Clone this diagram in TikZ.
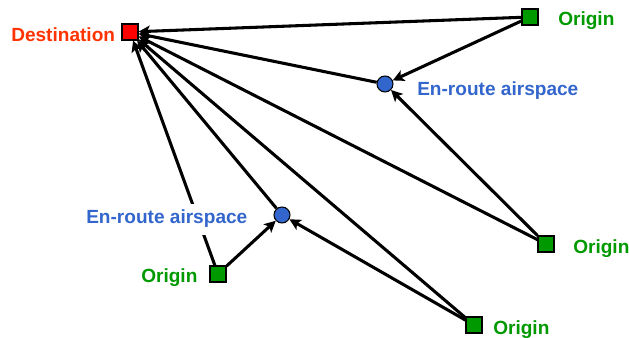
\documentclass[tikz,border=0pt]{standalone}
\usepackage{fontspec}
\setmainfont{Liberation Sans}
\usetikzlibrary{arrows.meta}
\definecolor{destred}{HTML}{FF0000}
\definecolor{desttext}{HTML}{FF3300}
\definecolor{origgreen}{HTML}{009900}
\definecolor{airblue}{HTML}{3366CC}
\tikzset{
  orig/.style={rectangle, draw=black, fill=origgreen, line width=0.8pt, minimum size=12pt, inner sep=0pt},
  dest/.style={rectangle, draw=black, fill=destred, line width=0.8pt, minimum size=12pt, inner sep=0pt},
  air/.style={circle, draw=black, fill=airblue, line width=0.8pt, minimum size=12pt, inner sep=0pt},
  lbl/.style={anchor=base west, inner sep=0pt, font=\fontsize{14.3}{17}\selectfont\bfseries},
  flow/.style={line width=2.3pt, -{Stealth[length=8.5pt, width=8.5pt, inset=2pt]}}
}
\begin{document}
\begin{tikzpicture}[x=0.75pt, y=-0.75pt]
\useasboundingbox (0,0) rectangle (629,338);
% airports and airspace sectors
\node[dest] (d)  at (130,32)  {};
\node[orig] (o1) at (530,17)  {};
\node[orig] (o2) at (546,244) {};
\node[orig] (o3) at (474,325) {};
\node[orig] (o4) at (218,274) {};
\node[air]  (e1) at (385,84)  {};
\node[air]  (e2) at (282,215) {};
% flows
\draw[flow] (o1) -- (d);
\draw[flow] (o1) -- (e1);
\draw[flow] (e1) -- (d);
\draw[flow] (o2) -- (e1);
\draw[flow] (o2) -- (d);
\draw[flow] (o3) -- (e2);
\draw[flow] (o3) -- (d);
\draw[flow] (e2) -- (d);
\draw[flow] (o4) -- (e2);
\draw[flow] (o4) -- (d);
% labels (the left airspace label sits on a white patch over the flow line)
\node[lbl, text=desttext]  (ld)  at (11,42)  {Destination};
\node[lbl, text=origgreen] (lo1) at (558,26) {Origin};
\node[lbl, text=origgreen] (lo2) at (573,254) {Origin};
\node[lbl, text=origgreen] (lo3) at (493,335) {Origin};
\node[lbl, text=origgreen] (lo4) at (141,283) {Origin};
\node[lbl, text=airblue]   (le1) at (417,96) {En-route airspace};
\node[lbl, text=airblue, fill=white, inner xsep=3pt, inner ysep=5pt] (le2) at (82,224) {En-route airspace};
\end{tikzpicture}
\end{document}
